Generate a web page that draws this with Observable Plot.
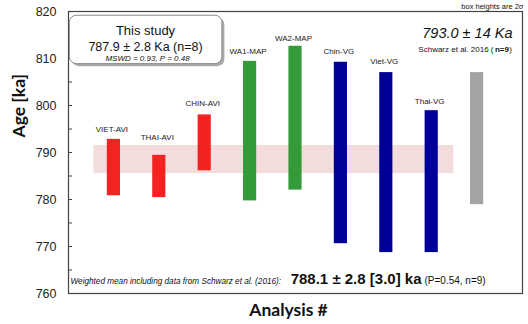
<!DOCTYPE html>
<html>
<head>
<meta charset="utf-8">
<script src="https://cdn.jsdelivr.net/npm/d3@7"></script>
<script src="https://cdn.jsdelivr.net/npm/@observablehq/plot@0.6"></script>
<style>
  html, body { margin: 0; padding: 0; background: #fff; }
  svg { display: block; }
</style>
</head>
<body>
<div id="chart"></div>
<script>
// Data
const labels   = ["VIET-AVI", "THAI-AVI", "CHIN-AVI", "WA1-MAP", "WA2-MAP", "Chin-VG", "Viet-VG", "Thai-VG", ""];
const analysis = [1, 2, 3, 4, 5, 6, 7, 8, 9];
const ageTop   = [792.8, 789.4, 798.0, 809.4, 812.6, 809.2, 807.0, 798.9, 807.0];
const ageLow   = [780.8, 780.4, 786.1, 779.7, 782.0, 770.6, 768.7, 768.7, 778.9];
const labelAge = [795.0, 793.1, 800.4, 811.5, 814.2, 811.5, 809.3, 800.8, null];
const groups   = ["AVI", "AVI", "AVI", "MAP", "MAP", "VG", "VG", "VG", "Schwarz"];
const groupNames  = ["AVI", "MAP", "VG", "Schwarz"];
const groupColors = ["#f52222", "#339a3a", "#000098", "#a3a3a3"];
// weighted mean band (this study)
const bandAge = [785.5, 791.5];
const bandAnalysis = [0.56, 8.49];
const yTicksMajor = [760, 770, 780, 790, 800, 810, 820];
const yTicksMinor = [760, 765, 770, 775, 780, 785, 790, 795, 800, 805, 810, 815, 820];

const bars = analysis.map((a, i) => ({
  a, label: labels[i], top: ageTop[i], low: ageLow[i], lab: labelAge[i], g: groups[i]
}));
const band = [{x1: bandAnalysis[0], x2: bandAnalysis[1], y1: bandAge[0], y2: bandAge[1]}];
const halfW = 0.145;
const box = [{x1: 0.03, x2: 3.39, y1: 808.8, y2: 819.1}];

const sans = "'Liberation Sans', Arial, sans-serif";
const titleFont = "Lato, 'Open Sans', sans-serif";

const T = (s, o) => Plot.text([s], {text: d => d, frameAnchor: "top-left", fontFamily: sans, lineAnchor: "middle", fill: "#111", ...o});

const chart = Plot.plot({
  width: 528,
  height: 324,
  marginLeft: 68,
  marginRight: 6,
  marginTop: 11,
  marginBottom: 31,
  style: {fontFamily: sans, background: "#fff"},
  x: {domain: [0, 10], axis: null},
  y: {domain: [760, 820], axis: null},
  color: {domain: groupNames, range: groupColors},
  marks: [
    Plot.rect(band, {x1: "x1", x2: "x2", y1: "y1", y2: "y2", fill: "#f3dcdc"}),
    Plot.rect(bars, {x1: d => d.a - halfW, x2: d => d.a + halfW, y1: "low", y2: "top", fill: "g"}),
    Plot.text(bars.filter(d => d.label), {x: "a", y: "lab", text: "label", fontSize: 8, fill: "#222", dx: -2}),
    Plot.frame({stroke: "#444", strokeWidth: 1.2}),
    // y axis labels and inward ticks
    Plot.axisY({ticks: yTicksMajor, tickSize: 0, tickPadding: 12, fontSize: 12.5, fill: "#222", fontFamily: sans}),
    Plot.axisY({ticks: yTicksMinor, tickSize: 4, dx: 4, tickFormat: () => "", stroke: "#444"}),
    // text box with shadow
    Plot.rect(box, {x1: "x1", x2: "x2", y1: "y1", y2: "y2", rx: 7, fill: "#aaa", dx: 2.5, dy: 2.5}),
    Plot.rect(box, {x1: "x1", x2: "x2", y1: "y1", y2: "y2", rx: 7, fill: "#fff", stroke: "#888", strokeWidth: 1}),
    T("This study", {dx: 77, dy: 19, fontSize: 13, textAnchor: "middle"}),
    T("787.9 ± 2.8 Ka (n=8)", {dx: 77, dy: 35, fontSize: 12.5, textAnchor: "middle"}),
    T("MSWD = 0.93, P = 0.48", {dx: 79, dy: 46.5, fontSize: 8, fontStyle: "italic", textAnchor: "middle"}),
    // Schwarz annotation
    T("793.0 ± 14 Ka", {dx: 444, dy: 22, fontSize: 14.5, fontStyle: "italic", textAnchor: "end"}),
    T("Schwarz et al. 2016 (", {dx: 425, dy: 37.5, fontSize: 8, textAnchor: "end"}),
    T("n=9", {dx: 440.5, dy: 37.5, fontSize: 8, fontWeight: "bold", textAnchor: "end"}),
    T(")", {dx: 443.5, dy: 37.5, fontSize: 8, textAnchor: "end"}),
    T("box heights are 2σ", {dx: 455, dy: -5, fontSize: 7.5, textAnchor: "end"}),
    // bottom weighted mean
    T("Weighted mean including data from Schwarz et al. (2016):", {dx: 2, dy: 269.5, fontSize: 8.2, fontStyle: "italic", textAnchor: "start"}),
    T("788.1 ± 2.8 [3.0] ka", {dx: 353, dy: 268, fontSize: 15, fontWeight: "bold", textAnchor: "end"}),
    T("(P=0.54, n=9)", {dx: 356, dy: 269, fontSize: 10, textAnchor: "start"}),
    // axis titles
    Plot.text(["Age [ka]"], {text: d => d, frameAnchor: "left", dx: -49, dy: -15, rotate: -90, fontSize: 17.5, fontWeight: "bold", fontFamily: titleFont, fill: "#111"}),
    Plot.text(["Analysis #"], {text: d => d, frameAnchor: "bottom", dx: -7, dy: 22, fontSize: 17.5, fontWeight: "bold", fontFamily: titleFont, fill: "#111"})
  ]
});
document.getElementById("chart").append(chart);
</script>
</body>
</html>
